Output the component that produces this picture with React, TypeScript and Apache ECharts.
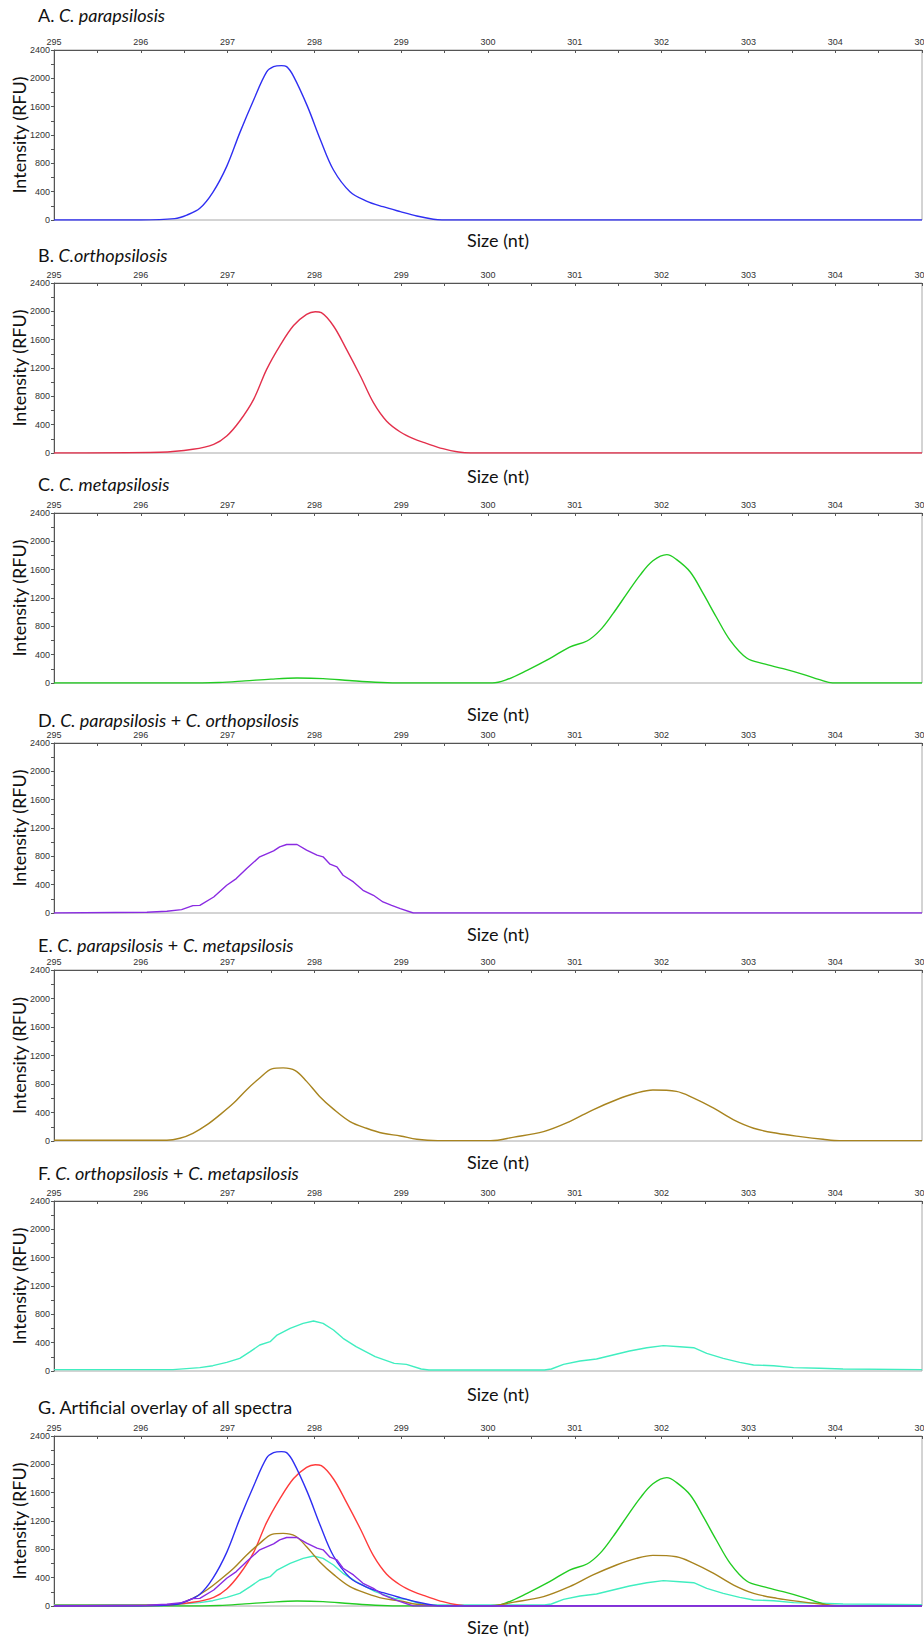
import React, { useEffect, useRef } from "react";
import * as echarts from "echarts";

// ---------- data (size in nt, intensity in RFU) ----------
const xTicks = [295, 296, 297, 298, 299, 300, 301, 302, 303, 304, 305];
const yTicks = [0, 400, 800, 1200, 1600, 2000, 2400];

const paraSize = [295, 296, 296.39, 296.53, 296.68, 296.83, 296.99, 297.14, 297.3, 297.45, 297.53, 297.62, 297.68, 297.76, 297.92, 298.07, 298.22, 298.41, 298.6, 298.79, 298.99, 299.18, 299.37, 299.47, 305];
const paraRfu = [0, 0, 20, 70, 165, 390, 757, 1230, 1695, 2090, 2165, 2180, 2165, 2028, 1604, 1130, 706, 400, 268, 188, 118, 56, 10, 0, 0];

const orthoSize = [295, 296.22, 296.6, 296.84, 296.99, 297.14, 297.3, 297.45, 297.6, 297.76, 297.91, 298.01, 298.08, 298.22, 298.37, 298.53, 298.68, 298.83, 298.99, 299.14, 299.29, 299.48, 299.66, 299.8, 305];
const orthoRfu = [0, 10, 52, 122, 240, 452, 758, 1181, 1510, 1800, 1958, 1995, 1981, 1793, 1463, 1087, 710, 452, 296, 202, 136, 61, 14, 0, 0];

const metaSize = [295, 296.5, 296.9, 297.2, 297.5, 297.8, 298.1, 298.4, 298.7, 298.95, 300.05, 300.2, 300.45, 300.71, 300.94, 301.14, 301.29, 301.44, 301.6, 301.75, 301.9, 302.06, 302.17, 302.33, 302.48, 302.63, 302.79, 302.98, 303.17, 303.4, 303.63, 303.82, 303.97, 305];
const metaRfu = [0, 0, 8, 30, 55, 70, 62, 35, 10, 0, 0, 40, 179, 343, 508, 593, 743, 979, 1261, 1520, 1725, 1812, 1745, 1567, 1261, 932, 602, 353, 273, 202, 122, 47, 0, 0];

const paraOrthoSize = [295, 296.07, 296.3, 296.47, 296.6, 296.68, 296.84, 296.99, 297.1, 297.22, 297.37, 297.53, 297.6, 297.68, 297.8, 297.91, 298.03, 298.1, 298.18, 298.26, 298.33, 298.45, 298.56, 298.68, 298.79, 298.89, 298.99, 299.14, 305];
const paraOrthoRfu = [0, 10, 24, 47, 104, 108, 226, 392, 486, 628, 793, 878, 934, 967, 967, 887, 817, 793, 689, 651, 533, 439, 321, 250, 156, 108, 61, 0, 0];

const paraMetaSize = [295, 296.3, 296.45, 296.6, 296.76, 296.91, 297.07, 297.22, 297.37, 297.51, 297.64, 297.78, 297.91, 298.06, 298.22, 298.41, 298.6, 298.79, 298.99, 299.18, 299.42, 300.03, 300.3, 300.64, 300.94, 301.21, 301.48, 301.71, 301.9, 302.17, 302.37, 302.6, 302.83, 303.06, 303.33, 303.6, 303.86, 304.05, 305];
const paraMetaRfu = [10, 10, 38, 108, 226, 367, 532, 720, 884, 1012, 1026, 988, 837, 626, 447, 273, 179, 108, 71, 24, 5, 5, 55, 132, 273, 438, 579, 673, 715, 696, 602, 461, 296, 179, 108, 61, 24, 5, 5];

const orthoMetaSize = [295, 296.37, 296.68, 296.83, 296.99, 297.14, 297.26, 297.37, 297.49, 297.57, 297.72, 297.87, 297.99, 298.1, 298.22, 298.33, 298.48, 298.7, 298.92, 299.06, 299.23, 299.32, 300.65, 300.73, 300.87, 301.06, 301.25, 301.44, 301.63, 301.83, 302.02, 302.21, 302.37, 302.52, 302.71, 302.9, 303.06, 303.29, 303.52, 303.82, 304.09, 305];
const orthoMetaRfu = [20, 20, 47, 75, 122, 179, 273, 367, 414, 508, 602, 673, 706, 673, 579, 461, 343, 202, 108, 94, 28, 15, 15, 28, 94, 141, 169, 226, 282, 329, 358, 343, 329, 249, 179, 122, 85, 75, 47, 38, 28, 20];

// ---------- styling / layout ----------
const COLORS = {
  para: "#2f2ff2",
  ortho: "#e3304c",
  orthoG: "#ff3b3b",
  meta: "#22cc22",
  paraOrtho: "#8a2be2",
  paraMeta: "#a8841f",
  orthoMeta: "#40eec0",
};

type Panel = { top: number; bottom: number; titleY: number; sizeY: number; title: string };

const PANELS: Panel[] = [
  { top: 50, bottom: 220, titleY: 15, sizeY: 240, title: "{n|A. }{i|C. parapsilosis}" },
  { top: 283, bottom: 453, titleY: 255, sizeY: 476, title: "{n|B. }{i|C.orthopsilosis}" },
  { top: 513, bottom: 683, titleY: 484, sizeY: 714, title: "{n|C. }{i|C. metapsilosis}" },
  { top: 743, bottom: 913, titleY: 720, sizeY: 934, title: "{n|D. }{i|C. parapsilosis}{n| + }{i|C. orthopsilosis}" },
  { top: 970, bottom: 1141, titleY: 945, sizeY: 1162, title: "{n|E. }{i|C. parapsilosis}{n| + }{i|C. metapsilosis}" },
  { top: 1201, bottom: 1371, titleY: 1173, sizeY: 1394, title: "{n|F. }{i|C. orthopsilosis}{n| + }{i|C. metapsilosis}" },
  { top: 1436, bottom: 1606, titleY: 1407, sizeY: 1627, title: "{n|G. Artificial overlay of all spectra}" },
];

const FONT = "Lato, 'Open Sans', sans-serif";
const TICK_FONT = "'Liberation Sans', Arial, sans-serif";
const FS = 18;

function zip(xs: number[], ys: number[]) {
  return xs.map((x, i) => [x, ys[i]]);
}

function lineSeries(idx: number, xs: number[], ys: number[], color: string, smooth: number | boolean) {
  return {
    type: "line",
    xAxisIndex: idx,
    yAxisIndex: idx,
    data: zip(xs, ys),
    showSymbol: false,
    symbol: "none",
    smooth,
    lineStyle: { color, width: 1.4 },
    silent: true,
  };
}

export default function App() {
  const ref = useRef<HTMLDivElement>(null);

  useEffect(() => {
    document.body.style.margin = "0";
    document.documentElement.style.overflow = "hidden";
    if (!ref.current) return;
    const chart = echarts.init(ref.current, undefined, { renderer: "svg" });

    const grids = PANELS.map((p) => ({
      left: 54,
      right: 2,
      top: p.top,
      height: p.bottom - p.top,
      show: true,
      containLabel: false,
      outerBoundsMode: "none",
      borderColor: "#a8a8a8",
      borderWidth: 1,
      backgroundColor: "transparent",
    }));

    const xAxes = PANELS.map((_, i) => ({
      type: "value",
      gridIndex: i,
      position: "top",
      min: xTicks[0],
      max: xTicks[xTicks.length - 1],
      interval: 1,
      axisLine: { show: true, onZero: false, lineStyle: { color: "#555", width: 1 } },
      axisTick: { show: true, inside: true, length: 3, lineStyle: { color: "#555" } },
      minorTick: { show: true, splitNumber: 2, length: 3, lineStyle: { color: "#555" } },
      splitLine: { show: false },
      axisLabel: {
        fontSize: 9,
        color: "#333",
        fontFamily: TICK_FONT,
        margin: 4,
        showMaxLabel: true,
        showMinLabel: true,
        formatter: (v: number) => String(v),
      },
    }));

    const yAxes = PANELS.map((_, i) => ({
      type: "value",
      gridIndex: i,
      min: yTicks[0],
      max: yTicks[yTicks.length - 1],
      interval: 400,
      axisLine: { show: true, lineStyle: { color: "#555", width: 1 } },
      axisTick: { show: true, length: 3, lineStyle: { color: "#555" } },
      minorTick: { show: true, splitNumber: 2, length: 3, lineStyle: { color: "#555" } },
      splitLine: { show: false },
      axisLabel: {
        fontSize: 9,
        color: "#333",
        fontFamily: TICK_FONT,
        margin: 4,
        formatter: (v: number) => String(v),
      },
    }));

    const series: any[] = [
      lineSeries(0, paraSize, paraRfu, COLORS.para, 0.35),
      lineSeries(1, orthoSize, orthoRfu, COLORS.ortho, 0.35),
      lineSeries(2, metaSize, metaRfu, COLORS.meta, 0.35),
      lineSeries(3, paraOrthoSize, paraOrthoRfu, COLORS.paraOrtho, false),
      lineSeries(4, paraMetaSize, paraMetaRfu, COLORS.paraMeta, 0.35),
      lineSeries(5, orthoMetaSize, orthoMetaRfu, COLORS.orthoMeta, false),
      // G overlay
      lineSeries(6, orthoMetaSize, orthoMetaRfu, COLORS.orthoMeta, false),
      lineSeries(6, metaSize, metaRfu, COLORS.meta, 0.35),
      lineSeries(6, orthoSize, orthoRfu, COLORS.orthoG, 0.35),
      lineSeries(6, paraMetaSize, paraMetaRfu, COLORS.paraMeta, 0.35),
      lineSeries(6, paraSize, paraRfu, COLORS.para, 0.35),
      lineSeries(6, paraOrthoSize, paraOrthoRfu, COLORS.paraOrtho, false),
    ];

    const rich = {
      n: { fontFamily: FONT, fontSize: FS, fill: "#111", fontStyle: "normal" },
      i: { fontFamily: FONT, fontSize: FS, fill: "#111", fontStyle: "italic" },
    };

    const graphics: any[] = [];
    PANELS.forEach((p) => {
      graphics.push({
        type: "text",
        left: 38,
        top: p.titleY - 9,
        silent: true,
        style: { text: p.title, rich, fontFamily: FONT, fontSize: FS, fill: "#111" },
      });
      graphics.push({
        type: "text",
        x: 19,
        y: (p.top + p.bottom) / 2,
        rotation: Math.PI / 2,
        silent: true,
        style: {
          text: "Intensity (RFU)",
          fontFamily: FONT,
          fontSize: FS,
          fill: "#111",
          textAlign: "center",
          textVerticalAlign: "middle",
        },
      });
      graphics.push({
        type: "text",
        x: 498,
        y: p.sizeY,
        silent: true,
        style: {
          text: "Size (nt)",
          fontFamily: FONT,
          fontSize: FS,
          fill: "#111",
          textAlign: "center",
          textVerticalAlign: "middle",
        },
      });
    });

    chart.setOption({
      animation: false,
      backgroundColor: "#fff",
      grid: grids,
      xAxis: xAxes,
      yAxis: yAxes,
      series,
      graphic: graphics,
    });

    return () => chart.dispose();
  }, []);

  return <div ref={ref} style={{ width: 924, height: 1638 }} />;
}
